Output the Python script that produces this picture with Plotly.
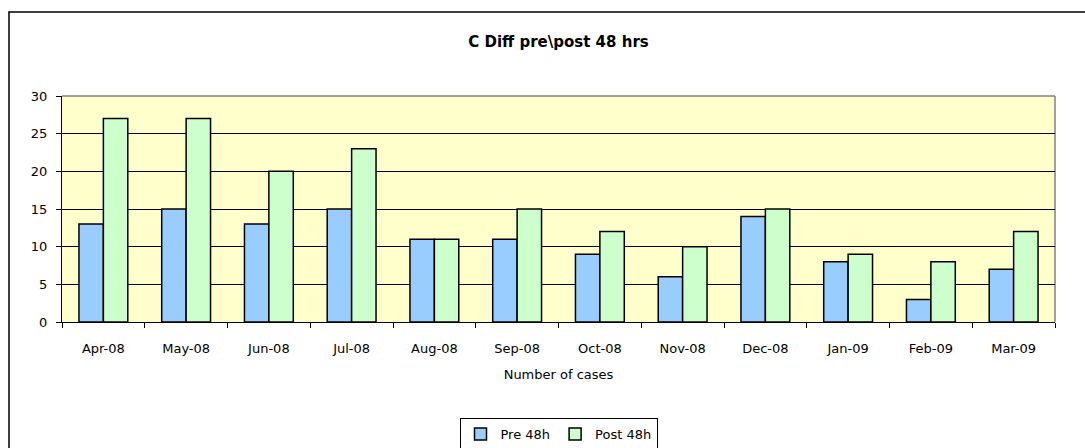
import plotly.graph_objects as go

months = ["Apr-08", "May-08", "Jun-08", "Jul-08", "Aug-08", "Sep-08",
          "Oct-08", "Nov-08", "Dec-08", "Jan-09", "Feb-09", "Mar-09"]
pre_48h = [13, 15, 13, 15, 11, 11, 9, 6, 14, 8, 3, 7]
post_48h = [27, 27, 20, 23, 11, 15, 12, 10, 15, 9, 8, 12]
y_ticks = [0, 5, 10, 15, 20, 25, 30]

W, H = 1085, 448
L, R, T, B = 62, 30, 96, 126
pw, ph = W - L - R, H - T - B

def px(x):
    return (x - L) / pw

def py(y):
    return (H - B - y) / ph

fig = go.Figure()
fig.add_trace(go.Bar(x=months, y=pre_48h, name="Pre 48h",
                     marker=dict(color="#99CCFF", line=dict(color="black", width=1.5))))
fig.add_trace(go.Bar(x=months, y=post_48h, name="Post 48h",
                     marker=dict(color="#CCFFCC", line=dict(color="black", width=1.5))))

font = "DejaVu Sans, Verdana, sans-serif"
fig.update_layout(
    width=W, height=H,
    margin=dict(l=L, r=R, t=T, b=B, autoexpand=False),
    paper_bgcolor="white",
    plot_bgcolor="#FFFFCC",
    barmode="group",
    bargap=0.41,
    bargroupgap=0,
    font=dict(family=font, size=13, color="black"),
    title=dict(text="<b>C Diff pre\\post 48 hrs</b>", x=0.5, xref="paper",
               y=1 - 42 / H, yanchor="middle", xanchor="center",
               font=dict(family=font, size=15, color="black")),
    showlegend=True,
    legend=dict(orientation="h", x=0.5, xanchor="center",
                yref="container", y=1 - 434 / H, yanchor="middle",
                bordercolor="black", borderwidth=1, bgcolor="white",
                font=dict(family=font, size=13), itemwidth=30,
                tracegroupgap=0, itemclick=False),
    xaxis=dict(showline=True, linecolor="black", linewidth=1,
               ticks="outside", ticklen=5, tickcolor="black", tickson="boundaries",
               ticklabelstandoff=14, automargin=False,
               title=dict(text="Number of cases", standoff=15,
                          font=dict(family=font, size=13)),
               showgrid=False, tickfont=dict(size=13)),
    yaxis=dict(range=[0, 30], tickvals=y_ticks, showline=True, linecolor="black",
               linewidth=1, ticks="outside", ticklen=5, tickcolor="black",
               ticklabelstandoff=6, automargin=False,
               showgrid=True, gridcolor="black", gridwidth=1, zeroline=False,
               tickfont=dict(size=13)),
    shapes=[
        dict(type="line", xref="paper", yref="paper", x0=0, x1=1, y0=1, y1=1,
             line=dict(color="#808080", width=1.5), layer="below"),
        dict(type="line", xref="paper", yref="paper", x0=1, x1=1, y0=0, y1=1,
             line=dict(color="#808080", width=1.5), layer="below"),
        dict(type="rect", xref="paper", yref="paper", x0=px(9), x1=px(W + 20),
             y0=py(H + 20), y1=py(12), line=dict(color="black", width=1.5),
             fillcolor="rgba(0,0,0,0)"),
    ],
)

fig.write_html("out.html", config={"displayModeBar": False},
               post_script="document.body.style.margin='0px';document.body.style.overflow='hidden';")
